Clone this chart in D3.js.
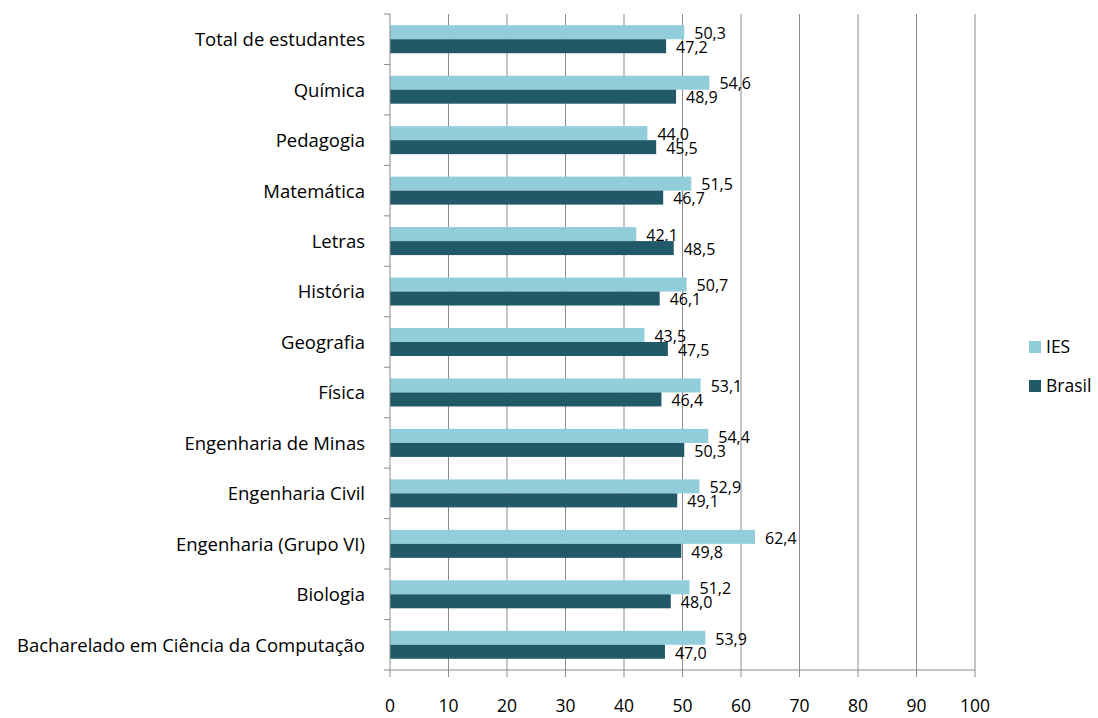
<!DOCTYPE html>
<html>
<head>
<meta charset="utf-8">
<script src="https://cdn.jsdelivr.net/npm/d3@7"></script>
<style>
  body { margin: 0; background: #fff; }
  text { font-family: "Open Sans", sans-serif; fill: #000; }
</style>
</head>
<body>
<svg id="chart"></svg>
<script>
const categories = [
    "Total de estudantes", "Química", "Pedagogia", "Matemática", "Letras",
    "História", "Geografia", "Física", "Engenharia de Minas", "Engenharia Civil",
    "Engenharia (Grupo VI)", "Biologia", "Bacharelado em Ciência da Computação"
];
const iesValues = [50.3, 54.6, 44.0, 51.5, 42.1, 50.7, 43.5, 53.1, 54.4, 52.9, 62.4, 51.2, 53.9];
const brasilValues = [47.2, 48.9, 45.5, 46.7, 48.5, 46.1, 47.5, 46.4, 50.3, 49.1, 49.8, 48.0, 47.0];
const seriesNames = ["IES", "Brasil"];
const xTicks = [0, 10, 20, 30, 40, 50, 60, 70, 80, 90, 100];

const width = 1098;
const height = 718;
const margin = { top: 14, right: 123, bottom: 48, left: 390 };
const gridColor = "#8c8c8c";

const svg = d3.select("#chart")
    .attr("width", width)
    .attr("height", height);

const colorScale = d3.scaleOrdinal()
    .domain(seriesNames)
    .range(["#92cddc", "#215968"]);

const xScale = d3.scaleLinear()
    .domain([0, 100])
    .range([margin.left, width - margin.right]);

const yScale = d3.scaleBand()
    .domain(categories)
    .range([margin.top, height - margin.bottom]);

const barH = 14;

// gridlines
svg.append("g")
    .selectAll("line")
    .data(xTicks.slice(1))
    .join("line")
    .attr("x1", d => xScale(d)).attr("x2", d => xScale(d))
    .attr("y1", margin.top).attr("y2", height - margin.bottom)
    .attr("stroke", gridColor)
    .attr("stroke-width", 1);

// bars
const rows = categories.map((c, i) => ({ cat: c, ies: iesValues[i], brasil: brasilValues[i] }));
const fmt = v => v.toFixed(1).replace(".", ",");

rows.forEach(d => {
    const cy = yScale(d.cat) + yScale.bandwidth() / 2;
    [["IES", d.ies, cy - barH], ["Brasil", d.brasil, cy]].forEach(([name, v, y]) => {
        svg.append("rect")
            .attr("x", xScale(0))
            .attr("y", y)
            .attr("width", xScale(v) - xScale(0))
            .attr("height", barH)
            .attr("fill", colorScale(name));
        svg.append("text")
            .attr("x", xScale(v) + 10)
            .attr("y", y + barH / 2 + 2.5)
            .attr("dominant-baseline", "middle")
            .style("font-size", "16px")
            .text(fmt(v));
    });
});

// left axis
const yAxis = svg.append("g")
    .attr("transform", `translate(${margin.left},0)`);
yAxis.append("line")
    .attr("x1", 0).attr("x2", 0)
    .attr("y1", margin.top).attr("y2", height - margin.bottom)
    .attr("stroke", gridColor);
yAxis.selectAll(".tk")
    .data(categories.map(c => yScale(c)).concat([height - margin.bottom]))
    .join("line")
    .attr("x1", -6).attr("x2", 0)
    .attr("y1", d => d).attr("y2", d => d)
    .attr("stroke", gridColor);
yAxis.selectAll(".lbl")
    .data(categories)
    .join("text")
    .attr("x", -25)
    .attr("y", d => yScale(d) + yScale.bandwidth() / 2 + 2)
    .attr("text-anchor", "end")
    .attr("dominant-baseline", "middle")
    .style("font-size", "18.5px")
    .text(d => d);

// bottom axis
const xAxis = svg.append("g")
    .attr("transform", `translate(0,${height - margin.bottom})`);
xAxis.append("line")
    .attr("x1", xScale(0)).attr("x2", xScale(100))
    .attr("stroke", gridColor);
xAxis.selectAll(".tk")
    .data(xTicks)
    .join("line")
    .attr("x1", d => xScale(d)).attr("x2", d => xScale(d))
    .attr("y1", 0).attr("y2", 7)
    .attr("stroke", gridColor);
xAxis.selectAll(".lbl")
    .data(xTicks)
    .join("text")
    .attr("x", d => xScale(d))
    .attr("y", 37)
    .attr("text-anchor", "middle")
    .attr("dominant-baseline", "middle")
    .style("font-size", "17.5px")
    .text(d => d);

// legend
const legend = svg.append("g")
    .attr("transform", "translate(1029, 341)");
seriesNames.forEach((name, i) => {
    legend.append("rect")
        .attr("x", 0).attr("y", i * 39)
        .attr("width", 12).attr("height", 12)
        .attr("fill", colorScale(name));
    legend.append("text")
        .attr("x", 17).attr("y", i * 39 + 7)
        .attr("dominant-baseline", "middle")
        .style("font-size", "17.5px")
        .text(name);
});
</script>
</body>
</html>
